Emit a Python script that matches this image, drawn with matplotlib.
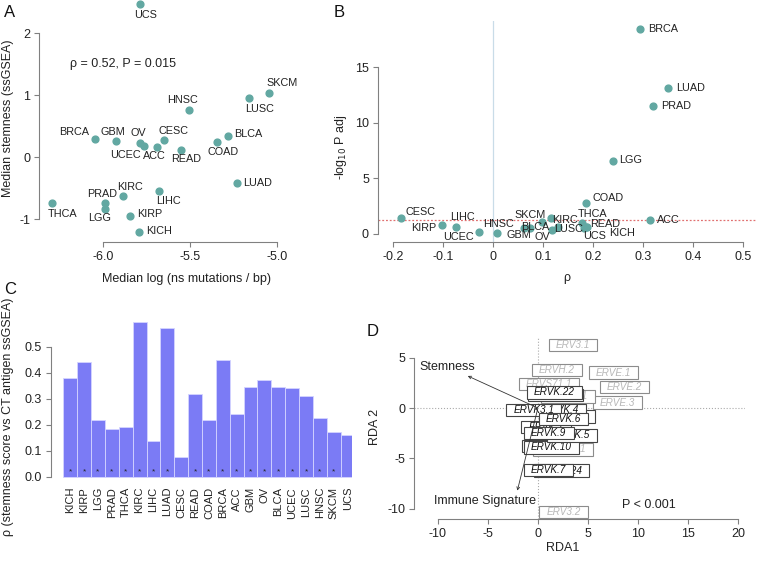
import numpy as np
import matplotlib
matplotlib.use('Agg')
import matplotlib.pyplot as plt
from matplotlib.patches import Rectangle

plt.rcParams['font.family'] = ['Liberation Sans', 'DejaVu Sans']
plt.rcParams['axes.unicode_minus'] = False

# panel A: median mutation load vs median stemness
a_names = ['UCS', 'SKCM', 'LUSC', 'HNSC', 'BRCA', 'GBM', 'OV', 'UCEC', 'ACC', 'CESC', 'READ',
           'COAD', 'BLCA', 'LUAD', 'LIHC', 'KIRC', 'PRAD', 'LGG', 'THCA', 'KIRP', 'KICH']
a_mut = [-5.788, -5.042, -5.160, -5.504, -6.048, -5.927, -5.788, -5.765, -5.692, -5.652, -5.550,
         -5.342, -5.283, -5.231, -5.677, -5.885, -5.988, -5.988, -6.298, -5.848, -5.792]
a_stem = [2.47, 1.03, 0.957, 0.769, 0.29, 0.263, 0.231, 0.188, 0.172, 0.285, 0.124,
          0.253, 0.344, -0.409, -0.548, -0.618, -0.742, -0.839, -0.742, -0.941, -1.199]

# panel B: rho vs -log10 adjusted P
b_names = ['BRCA', 'LUAD', 'PRAD', 'LGG', 'COAD', 'ACC', 'CESC', 'KIRP', 'LIHC', 'UCEC', 'HNSC',
           'GBM', 'SKCM', 'BLCA', 'OV', 'KIRC', 'LUSC', 'THCA', 'READ', 'UCS', 'KICH']
b_rho = [0.293, 0.350, 0.319, 0.239, 0.186, 0.313, -0.185, -0.103, -0.075, -0.029, 0.061,
         0.007, 0.097, 0.073, 0.117, 0.115, 0.129, 0.177, 0.185, 0.182, 0.188]
b_padj = [18.41, 13.08, 11.53, 6.56, 2.75, 1.26, 1.47, 0.78, 0.66, 0.15, 0.54,
          0.06, 1.05, 0.54, 0.39, 1.44, 0.60, 0.99, 0.63, 0.58, 0.66]

# panel C: rho (stemness vs CT antigen)
c_names = ['KICH', 'KIRP', 'LGG', 'PRAD', 'THCA', 'KIRC', 'LIHC', 'LUAD', 'CESC', 'READ', 'COAD',
           'BRCA', 'ACC', 'GBM', 'OV', 'BLCA', 'UCEC', 'LUSC', 'HNSC', 'SKCM', 'UCS']
c_rho = [0.381, 0.441, 0.219, 0.182, 0.191, 0.594, 0.137, 0.571, 0.074, 0.319, 0.219,
         0.449, 0.241, 0.344, 0.371, 0.344, 0.342, 0.309, 0.227, 0.171, 0.16]
c_sig = [1, 1, 1, 1, 1, 1, 1, 1, 0, 1, 1, 1, 1, 1, 1, 1, 1, 1, 1, 1, 0]

# panel D: RDA labels (drawn bottom to top), grey = 1 for faded labels
d_names = ['ERV3.1', 'ERVH.2', 'ERVE.1', 'ERVE.2', 'ERVE.3', 'ERVS71.1', 'ERVK.11', 'ERVK13.1',
           'ERV3.2', 'ERVK.21', 'ERVK.24', 'ERVK.7', 'ERVK.8', 'ERVK.10', 'ERVK.5', 'ERVK.1',
           'ERVK.9', 'ERVK.2', 'ERVK.4', 'ERVK3.1', 'ERVK.6', 'ERVK.22']
d_x = [3.50, 1.89, 7.57, 8.66, 7.94, 1.09, 3.0, 2.5,
       2.57, 1.75, 2.4, 1.08, 0.85, 1.36, 3.4, 0.8,
       1.09, 3.2, 2.36, -0.41, 2.57, 1.61]
d_y = [6.28, 3.80, 3.51, 2.09, 0.53, 2.38, 1.16, -4.12,
       -10.33, 1.3, -6.21, -6.16, -3.75, -3.92, -2.73, -1.9,
       -2.48, -0.84, -0.2, -0.2, -1.09, 1.54]
d_grey = [1, 1, 1, 1, 1, 1, 1, 1, 1, 0, 0, 0, 0, 0, 0, 0, 0, 0, 0, 0, 0, 0]
arrow_names = ['Stemness', 'Immune Signature']
arrow_x = [-7.0, -2.05]
arrow_y = [3.18, -8.2]

W, H = 757, 563
fig = plt.figure(figsize=(W / 100, H / 100), dpi=100)


def px_axes(left, top, right, bottom):
    return fig.add_axes([left / W, 1 - bottom / H, (right - left) / W, (bottom - top) / H])


def ftext(px, py, s, **kw):
    fig.text(px / W, 1 - py / H, s, ha='center', va='center', **kw)


def r_style(ax, xb=None, yb=None):
    ax.patch.set_alpha(0)
    for s in ('top', 'right'):
        ax.spines[s].set_visible(False)
    for s in ('left', 'bottom'):
        ax.spines[s].set_color('#808080')
        ax.spines[s].set_linewidth(0.8)
    if xb:
        ax.spines['bottom'].set_bounds(*xb)
    else:
        ax.spines['bottom'].set_visible(False)
    ax.spines['left'].set_bounds(*yb)
    ax.tick_params(colors='#808080', labelcolor='#222222', labelsize=9, length=3.5, width=0.8, pad=3)


dot = '#62a8a2'
lab = dict(fontsize=7.8, color='#222222', ha='center', va='center', textcoords='offset pixels')

# ---- A
ax = px_axes(39.3, 0, 290, 242)
ax.set_xlim(-6.369, -4.923)
ax.set_ylim(-1.366, 2.537)
r_style(ax, (-6, -5), (-1, 2))
ax.set_xticks([-6, -5.5, -5])
ax.set_xticklabels(['-6.0', '-5.5', '-5.0'])
ax.set_yticks([-1, 0, 1, 2])
ax.scatter(a_mut, a_stem, s=24, color=dot, clip_on=False, zorder=3)
a_off = {'UCS': (6, 11), 'SKCM': (13, -10), 'LUSC': (11, 11), 'HNSC': (-7, -10), 'BRCA': (-21, -7),
         'GBM': (-3, -9), 'OV': (-2, -10), 'UCEC': (-19, 9), 'ACC': (-2, 9), 'CESC': (10, -9),
         'READ': (5, 9), 'COAD': (6, 10), 'BLCA': (21, -2), 'LUAD': (21, 0), 'LIHC': (9, 10),
         'KIRC': (7, -9), 'PRAD': (-3, -9), 'LGG': (-6, 9), 'THCA': (11, 11), 'KIRP': (20, -2),
         'KICH': (20, -1)}
for n, x, y in zip(a_names, a_mut, a_stem):
    dx, dy = a_off[n]
    ax.annotate(n, (x, y), xytext=(dx, -dy), annotation_clip=False, **lab)
ax.text(-6.19, 1.5, 'ρ = 0.52, P = 0.015', fontsize=9, color='#222222', va='center')
ftext(8.5, 118, 'Median stemness (ssGSEA)', rotation=90, fontsize=9, color='#222222')
ftext(187, 279, 'Median log (ns mutations / bp)', fontsize=9, color='#222222')

# ---- B
ax = px_axes(378, 21, 757, 242.3)
ax.set_xlim(-0.2306, 0.5274)
ax.set_ylim(-0.746, 19.14)
r_style(ax, (-0.2, 0.5), (0, 15))
ax.set_xticks(np.arange(-0.2, 0.51, 0.1))
ax.set_xticklabels(['-0.2', '-0.1', '0', '0.1', '0.2', '0.3', '0.4', '0.5'])
ax.set_yticks([0, 5, 10, 15])
ax.axvline(0, color='#c9dce8', lw=0.9, zorder=1)
ax.axhline(-np.log10(0.05), color='#e07070', lw=0.9, ls=(0, (1.5, 1.5)), zorder=1)
ax.scatter(b_rho, b_padj, s=24, color=dot, zorder=3, clip_on=False)
b_off = {'BRCA': (23, 0), 'LUAD': (22, 0), 'PRAD': (23, 0), 'LGG': (18, -1), 'COAD': (22, -5),
         'ACC': (19, 0), 'CESC': (20, -6), 'KIRP': (-18, 3), 'LIHC': (7, -10), 'UCEC': (-20, 5),
         'HNSC': (-25, -4), 'GBM': (22, 2), 'SKCM': (-12, -7), 'BLCA': (5, -1), 'OV': (-9, 7),
         'KIRC': (14, 2), 'LUSC': (11, 2), 'THCA': (11, -9), 'READ': (19, -3), 'UCS': (10, 8),
         'KICH': (35, 6)}
for n, x, y in zip(b_names, b_rho, b_padj):
    dx, dy = b_off[n]
    ax.annotate(n, (x, y), xytext=(dx, -dy), annotation_clip=False, zorder=4, **lab)
ftext(341, 147, r'-log$_{10}$ P adj', rotation=90, fontsize=9, color='#222222')
ftext(567, 278, 'ρ', fontsize=9, color='#222222')

# ---- C
ax = px_axes(51.2, 300, 351.8, 480)
ax.set_xlim(-0.872, 20.8)
ax.set_ylim(-0.0127, 0.6796)
r_style(ax, None, (0, 0.5))
pos = np.arange(len(c_names))
ax.bar(pos, c_rho, width=1, align='edge', color='#7b7bf5', edgecolor='#d4d4ff', linewidth=0.6)
for i, s in enumerate(c_sig):
    if s:
        ax.text(i + 0.5, 0.018, '*', ha='center', va='center', fontsize=6, color='#222222')
ax.set_yticks(np.arange(0, 0.51, 0.1))
ax.set_yticklabels(['0.0', '0.1', '0.2', '0.3', '0.4', '0.5'])
ax.set_xticks(pos + 0.5)
ax.set_xticklabels(c_names, rotation=90, fontsize=8)
ax.tick_params(axis='x', length=0, pad=5)
ftext(8.5, 417, 'ρ (stemness score vs CT antigen ssGSEA)', rotation=90, fontsize=9, color='#222222')

# ---- D
ax = px_axes(414.3, 338, 745, 519.3)
ax.set_xlim(-12.335, 20.67)
ax.set_ylim(-11.05, 6.95)
r_style(ax, (-10, 20), (-10, 5))
ax.set_xticks([-10, -5, 0, 5, 10, 15, 20])
ax.set_yticks([-10, -5, 0, 5])
ax.axhline(0, color='#aaaaaa', lw=0.8, ls=':', zorder=1)
ax.axvline(0, color='#aaaaaa', lw=0.8, ls=':', zorder=1)
rend = fig.canvas.get_renderer()
inv = ax.transData.inverted()
for i, (n, x, y, g) in enumerate(zip(d_names, d_x, d_y, d_grey)):
    t = ax.text(x, y, n, ha='center', va='center', fontsize=7.2, style='italic',
                color='#b8b8b8' if g else '#111111', zorder=3 + 2 * i, clip_on=False)
    bb = t.get_window_extent(renderer=rend)
    (x0, y0), (x1, y1) = inv.transform([[bb.x0 - 7, bb.y0 - 1.2], [bb.x1 + 7, bb.y1 + 1.2]])
    ax.add_patch(Rectangle((x0, y0), x1 - x0, y1 - y0, fc='white', lw=0.8, clip_on=False,
                           ec='#8c8c8c' if g else '#444444', zorder=2 + 2 * i))
for n, x, y in zip(arrow_names, arrow_x, arrow_y):
    ax.annotate('', xy=(x, y), xytext=(0, 0), zorder=100,
                arrowprops=dict(arrowstyle='->', lw=0.6, color='#333333', mutation_scale=5,
                                shrinkA=0, shrinkB=0))
ax.text(-9.05, 4.10, 'Stemness', ha='center', va='center', fontsize=9, color='#222222')
ax.text(-5.25, -9.19, 'Immune Signature', ha='center', va='center', fontsize=9, color='#222222')
ax.text(11.1, -9.63, 'P < 0.001', ha='center', va='center', fontsize=9, color='#222222')
ftext(375, 427, 'RDA 2', rotation=90, fontsize=9, color='#222222')
ftext(563, 548, 'RDA1', fontsize=9, color='#222222')

# panel letters
for L, x, y in [('A', 10, 12.5), ('B', 339, 12.5), ('C', 10, 289), ('D', 373, 331)]:
    ftext(x, y, L, fontsize=12, color='#111111')

fig.savefig('out.png', dpi=100)
